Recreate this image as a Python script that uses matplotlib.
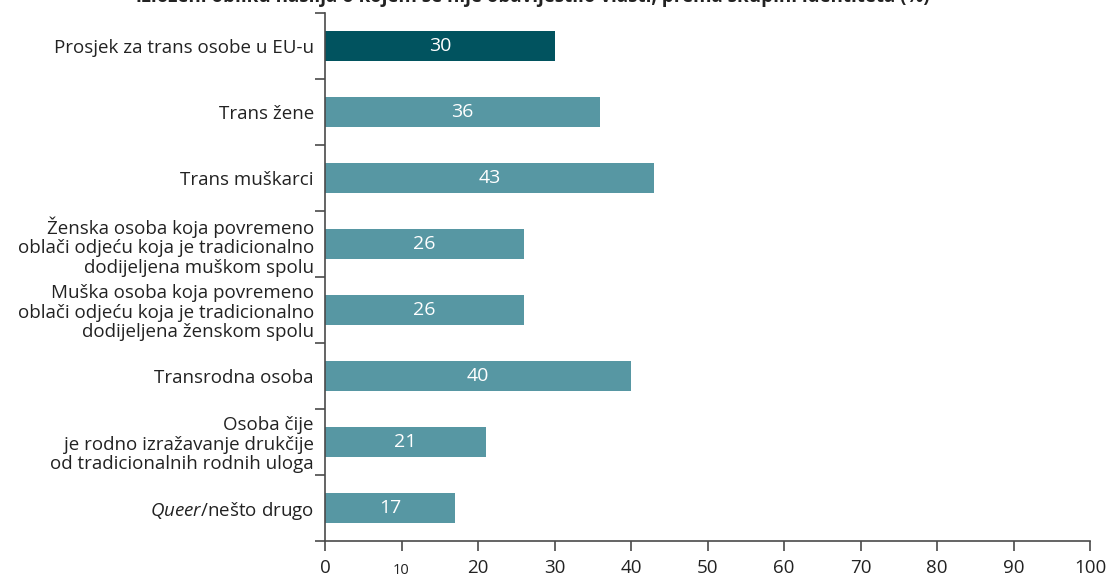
"""Horizontal bar chart: share by identity group (%), Croatian labels."""

import matplotlib

matplotlib.use("Agg")
import matplotlib.pyplot as plt
import matplotlib.transforms as mtransforms
import numpy as np

plt.rcParams["font.family"] = ["Open Sans", "DejaVu Sans"]
plt.rcParams["mathtext.fontset"] = "custom"
plt.rcParams["mathtext.rm"] = "Open Sans"
plt.rcParams["mathtext.it"] = "Open Sans:italic"

categories = [
    "Prosjek za trans osobe u EU-u",
    "Trans žene",
    "Trans muškarci",
    "Ženska osoba koja povremeno\noblači odjeću koja je tradicionalno\ndodijeljena muškom spolu",
    "Muška osoba koja povremeno\noblači odjeću koja je tradicionalno\ndodijeljena ženskom spolu",
    "Transrodna osoba",
    "Osoba čije\nje rodno izražavanje drukčije\nod tradicionalnih rodnih uloga",
    r"$\it{Queer}$/nešto drugo",
]
values = [30, 36, 43, 26, 26, 40, 21, 17]
x_ticks = [0, 10, 20, 30, 40, 50, 60, 70, 80, 90, 100]
title = "izloženi obliku nasilja o kojem se nije obavijestilo vlasti, prema skupini identiteta (%)"

DARK = "#01535F"
LIGHT = "#5797A3"
AXIS = "#4a4a4a"
TEXT = "#222222"


def main() -> None:
    fig = plt.figure(figsize=(11.1, 5.81), dpi=100)
    ax = fig.add_axes([0.2928, 0.0688, 0.982 - 0.2928, 0.9776 - 0.0688])

    y = np.arange(len(categories))
    colors = [DARK] + [LIGHT] * (len(values) - 1)
    ax.barh(y, values, height=0.45, color=colors)
    for yi, v in zip(y, values):
        ax.text(v / 2, yi, str(v), ha="center", va="center", color="white", fontsize=14)

    ax.set_xlim(0, 100)
    ax.set_ylim(len(categories) - 0.5, -0.5)

    ax.set_yticks(y)
    ax.set_yticklabels(categories, fontsize=13.5, color=TEXT, linespacing=1.1)
    ax.set_yticks(np.arange(-0.5, len(categories), 1.0), minor=True)
    ax.tick_params(axis="y", which="major", length=0, pad=8)
    ax.tick_params(axis="y", which="minor", length=7, width=1.2, color=AXIS, direction="out")

    ax.set_xticks(x_ticks)
    ax.set_xticklabels([str(t) for t in x_ticks], fontsize=13.5, color=TEXT)
    ax.tick_params(axis="x", length=7, width=1.2, color=AXIS, pad=6)
    # the "10" label is set smaller in the original, sitting on the same baseline
    small = ax.get_xticklabels()[1]
    small.set_fontsize(10.5)
    small.set_transform(small.get_transform() + mtransforms.ScaledTranslation(0, -3 / 72, fig.dpi_scale_trans))

    for side in ("top", "right"):
        ax.spines[side].set_visible(False)
    for side in ("left", "bottom"):
        ax.spines[side].set_color(AXIS)
        ax.spines[side].set_linewidth(1.2)

    fig.text(0.48, 1.006, title, ha="center", va="center", fontsize=13.5, fontweight="bold", color=TEXT)

    fig.savefig("out.png", dpi=100)
    plt.close(fig)


if __name__ == "__main__":
    main()
